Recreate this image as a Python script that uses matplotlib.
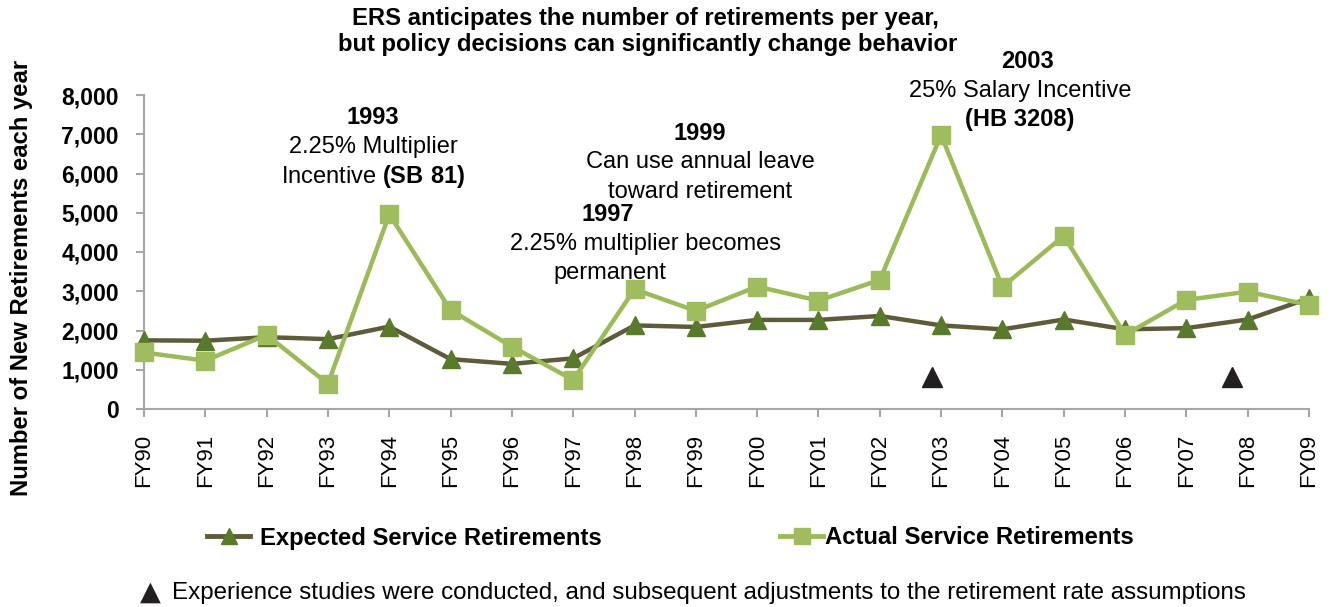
import matplotlib
matplotlib.use("Agg")
import matplotlib.pyplot as plt
from matplotlib.lines import Line2D
from matplotlib.ticker import FuncFormatter

plt.rcParams["font.family"] = ["Liberation Sans", "DejaVu Sans"]
plt.rcParams["mathtext.fontset"] = "custom"
plt.rcParams["mathtext.rm"] = "Liberation Sans"
plt.rcParams["mathtext.bf"] = "Liberation Sans:bold"

# Data
years = ["FY90", "FY91", "FY92", "FY93", "FY94", "FY95", "FY96", "FY97", "FY98", "FY99",
         "FY00", "FY01", "FY02", "FY03", "FY04", "FY05", "FY06", "FY07", "FY08", "FY09"]
expected = [1750, 1740, 1830, 1780, 2100, 1270, 1150, 1290, 2130, 2090,
            2270, 2270, 2370, 2130, 2030, 2280, 2030, 2060, 2280, 2820]
actual = [1440, 1230, 1890, 640, 4960, 2520, 1590, 740, 3050, 2500,
          3120, 2760, 3290, 6980, 3110, 4410, 1890, 2780, 2990, 2650]
# experience studies (between fiscal-year positions)
study_x = [12.85, 17.74]
study_y = [820, 820]
y_ticks = [0, 1000, 2000, 3000, 4000, 5000, 6000, 7000, 8000]

EXP_LINE = "#5e5b3a"
EXP_MARK = "#587a2b"
ACT_LINE = "#9bbb59"
ACT_MARK = "#9fbd5f"
AXIS = "#a6a6a6"

W, H = 1332, 607
fig = plt.figure(figsize=(W / 100, H / 100), dpi=100)
ax = fig.add_axes([144 / W, 1 - 409 / H, (1309 - 144) / W, (409 - 95) / H])


def fx(px):
    return px / W


def fy(py):
    return 1 - py / H


x = list(range(len(years)))
ax.plot(x, expected, color=EXP_LINE, lw=3.2, marker="^", ms=13, mfc=EXP_MARK,
        mec=EXP_MARK, clip_on=False, zorder=3)
ax.plot(x, actual, color=ACT_LINE, lw=3.2, marker="s", ms=12.5, mfc=ACT_MARK,
        mec=ACT_MARK, clip_on=False, zorder=4)
ax.plot(study_x, study_y, ls="none", marker="^", ms=15, color="#231f20", zorder=5)

ax.set_xlim(0, len(years) - 1)
ax.set_ylim(0, 8000)
ax.set_xticks(x)
ax.set_xticklabels(years, rotation=90, fontsize=16)
ax.set_yticks(y_ticks)
ax.yaxis.set_major_formatter(FuncFormatter(lambda v, p: f"{int(v):,}"))
for lab in ax.get_yticklabels():
    lab.set_fontweight("bold")
    lab.set_fontsize(16.5)

for side in ("top", "right"):
    ax.spines[side].set_visible(False)
for side in ("left", "bottom"):
    ax.spines[side].set_color(AXIS)
    ax.spines[side].set_linewidth(1.5)
ax.tick_params(axis="both", direction="out", length=6, width=1.5, color=AXIS)
ax.tick_params(axis="x", pad=12)
ax.tick_params(axis="y", pad=12)

fig.text(fx(22), fy(278), "Number of New Retirements each year", rotation=90,
         ha="center", va="center", fontsize=17.2, fontweight="bold")

fig.text(fx(645), fy(18), "ERS anticipates the number of retirements per year,",
         ha="center", va="center", fontsize=17.2, fontweight="bold")
fig.text(fx(648), fy(45), "but policy decisions can significantly change behavior",
         ha="center", va="center", fontsize=17.2, fontweight="bold")

ANN = 17
# 1993
fig.text(fx(373), fy(118), "1993", ha="center", va="center", fontsize=ANN, fontweight="bold")
fig.text(fx(373), fy(147), "2.25% Multiplier", ha="center", va="center", fontsize=ANN)
fig.text(fx(373), fy(177), r"Incentive $\mathbf{(SB\ 81)}$", ha="center", va="center", fontsize=ANN)
# 1999
fig.text(fx(700), fy(133), "1999", ha="center", va="center", fontsize=ANN, fontweight="bold")
fig.text(fx(700), fy(162), "Can use annual leave", ha="center", va="center", fontsize=ANN)
fig.text(fx(700), fy(192), "toward retirement", ha="center", va="center", fontsize=ANN)
# 1997
fig.text(fx(608), fy(215), "1997", ha="center", va="center", fontsize=ANN, fontweight="bold")
fig.text(fx(646), fy(244), "2.25% multiplier becomes", ha="center", va="center", fontsize=ANN)
fig.text(fx(610), fy(273), "permanent", ha="center", va="center", fontsize=ANN)
# 2003
fig.text(fx(1027), fy(62), "2003", ha="center", va="center", fontsize=ANN, fontweight="bold")
fig.text(fx(1020), fy(91), "25% Salary Incentive", ha="center", va="center", fontsize=ANN)
fig.text(fx(1020), fy(120), "(HB 3208)", ha="center", va="center", fontsize=ANN, fontweight="bold")

h_exp = Line2D([], [], color=EXP_LINE, lw=3.5, marker="^", ms=12, mfc=EXP_MARK, mec=EXP_MARK)
h_act = Line2D([], [], color=ACT_LINE, lw=3.5, marker="s", ms=12, mfc=ACT_MARK, mec=ACT_MARK)
leg_props = dict(loc="center left", frameon=False, handlelength=1.8,
                 borderpad=0, borderaxespad=0, prop={"size": 17.2, "weight": "bold"})
fig.legend([h_exp], ["Expected Service Retirements"], bbox_to_anchor=(fx(207), fy(538)),
           handletextpad=0.4, **leg_props)
fig.legend([h_act], ["Actual Service Retirements"], bbox_to_anchor=(fx(780), fy(538)),
           handletextpad=0.1, **leg_props)

fig.text(fx(150), fy(593), "\u25b2", ha="center", va="center", fontsize=19.5,
         color="#231f20", family="DejaVu Sans")
fig.text(fx(172), fy(593),
         "Experience studies were conducted, and subsequent adjustments to the retirement rate assumptions",
         ha="left", va="center", fontsize=17.4)

fig.savefig("out.png", dpi=100)
